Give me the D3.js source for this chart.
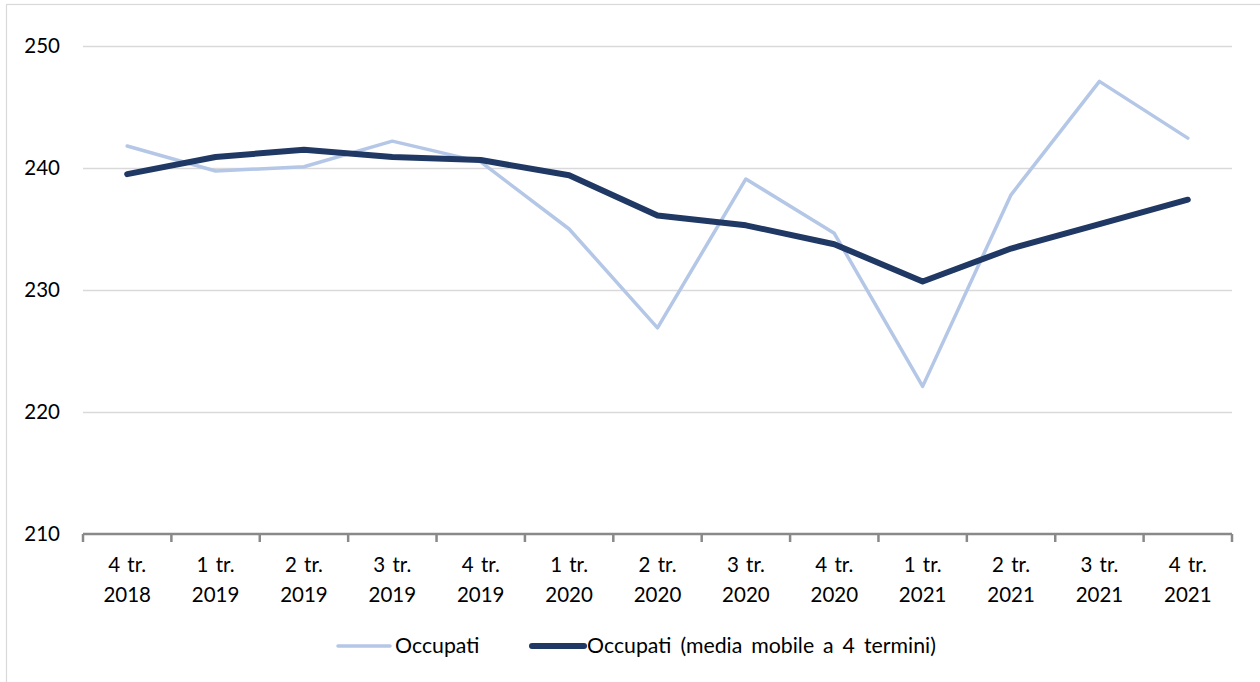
<!DOCTYPE html>
<html>
<head>
<meta charset="utf-8">
<script src="https://cdn.jsdelivr.net/npm/d3@7"></script>
<style>
  body { margin: 0; background: #fff; }
  svg text { font-family: Lato, "Open Sans", sans-serif; fill: #000; }
</style>
</head>
<body>
<div id="chart"></div>
<script>
(function() {
    'use strict';

    // chart data
    var quarters = ["4 tr.", "1 tr.", "2 tr.", "3 tr.", "4 tr.", "1 tr.", "2 tr.", "3 tr.", "4 tr.", "1 tr.", "2 tr.", "3 tr.", "4 tr."];
    var years = ["2018", "2019", "2019", "2019", "2019", "2020", "2020", "2020", "2020", "2021", "2021", "2021", "2021"];
    var occupati = [241.8, 239.75, 240.1, 242.2, 240.5, 235.0, 226.9, 239.1, 234.65, 222.1, 237.8, 247.1, 242.45];
    var mediaMobile = [239.5, 240.9, 241.5, 240.9, 240.65, 239.4, 236.1, 235.3, 233.75, 230.7, 233.4, 235.4, 237.4];
    var yTicks = [210, 220, 230, 240, 250];
    var seriesNames = ["Occupati", "Occupati (media mobile a 4 termini)"];

    var W = 1260, H = 682;
    var margin = {top: 46, right: 28, bottom: 148, left: 83};
    var width = W - margin.left - margin.right;
    var height = H - margin.top - margin.bottom;

    var keys = quarters.map(function(q, i) { return i; });

    var x = d3.scaleBand()
        .domain(keys)
        .range([0, width])
        .paddingInner(0)
        .paddingOuter(0);

    var y = d3.scaleLinear()
        .domain([210, 250])
        .range([height, 0]);

    var svg = d3.select("#chart").append("svg")
        .attr("width", W)
        .attr("height", H);

    // outer chart frame
    svg.append("rect")
        .attr("x", 6.5)
        .attr("y", 4.5)
        .attr("width", W)
        .attr("height", H)
        .attr("fill", "none")
        .attr("stroke", "#d9d9d9")
        .attr("stroke-width", 1.2);

    var g = svg.append("g")
        .attr("transform", "translate(" + margin.left + "," + margin.top + ")");

    // horizontal grid
    g.append("g")
        .attr("class", "grid")
        .call(d3.axisLeft(y).tickValues(yTicks.slice(1)).tickSize(-width).tickFormat(""))
        .call(function(s) { s.select(".domain").remove(); })
        .selectAll("line")
        .style("stroke", "#d9d9d9")
        .style("stroke-width", 1.5);

    // y labels
    g.append("g")
        .attr("class", "y-axis")
        .call(d3.axisLeft(y).tickValues(yTicks).tickSize(0).tickPadding(23))
        .call(function(s) { s.select(".domain").remove(); })
        .selectAll("text")
        .style("font-size", "20.5px")
        .style("font-family", "Lato, sans-serif")
        .attr("fill", "#000");

    // x axis with ticks at band boundaries
    var bounds = d3.range(keys.length + 1).map(function(i) { return i * x.bandwidth(); });
    var xAxis = g.append("g")
        .attr("class", "x-axis")
        .attr("transform", "translate(0," + height + ")");

    xAxis.append("line")
        .attr("x1", 0).attr("x2", width)
        .attr("stroke", "#898989").attr("stroke-width", 2.5);

    xAxis.selectAll(".tick-mark")
        .data(bounds)
        .enter().append("line")
        .attr("class", "tick-mark")
        .attr("x1", function(d) { return d; })
        .attr("x2", function(d) { return d; })
        .attr("y1", 0).attr("y2", 8)
        .attr("stroke", "#898989").attr("stroke-width", 2.5);

    var labels = xAxis.selectAll(".xlabel")
        .data(keys)
        .enter().append("text")
        .attr("class", "xlabel")
        .attr("text-anchor", "middle")
        .style("font-size", "20.5px")
        .style("word-spacing", "2px")
        .attr("transform", function(d) { return "translate(" + (x(d) + x.bandwidth() / 2) + ",0)"; });

    labels.append("tspan").attr("x", 0).attr("y", 38).text(function(d) { return quarters[d]; });
    labels.append("tspan").attr("x", 0).attr("y", 68).text(function(d) { return years[d]; });

    var line = function(values) {
        return d3.line()
            .x(function(d, i) { return x(i) + x.bandwidth() / 2; })
            .y(function(d) { return y(d); })(values);
    };

    g.append("path")
        .attr("d", line(occupati))
        .attr("fill", "none")
        .attr("stroke", "#b4c7e7")
        .attr("stroke-width", 3.5)
        .attr("stroke-linejoin", "round")
        .attr("stroke-linecap", "round");

    g.append("path")
        .attr("d", line(mediaMobile))
        .attr("fill", "none")
        .attr("stroke", "#203864")
        .attr("stroke-width", 6)
        .attr("stroke-linejoin", "round")
        .attr("stroke-linecap", "round");

    // legend
    var legendItems = [
        {name: seriesNames[0], color: "#b4c7e7", w: 3.5, x: 338},
        {name: seriesNames[1], color: "#203864", w: 6, x: 532}
    ];

    var legend = svg.selectAll(".legend")
        .data(legendItems)
        .enter().append("g")
        .attr("class", "legend")
        .attr("transform", function(d) { return "translate(" + d.x + ",646)"; });

    legend.append("line")
        .attr("x1", 0).attr("x2", 52)
        .attr("stroke", function(d) { return d.color; })
        .attr("stroke-width", function(d) { return d.w; })
        .attr("stroke-linecap", "round");

    legend.append("text")
        .attr("x", function(d, i) { return i === 0 ? 57 : 55; })
        .attr("dy", "0.35em")
        .style("font-size", "21.3px")
        .style("word-spacing", "3.5px")
        .text(function(d) { return d.name; });
})();
</script>
</body>
</html>
